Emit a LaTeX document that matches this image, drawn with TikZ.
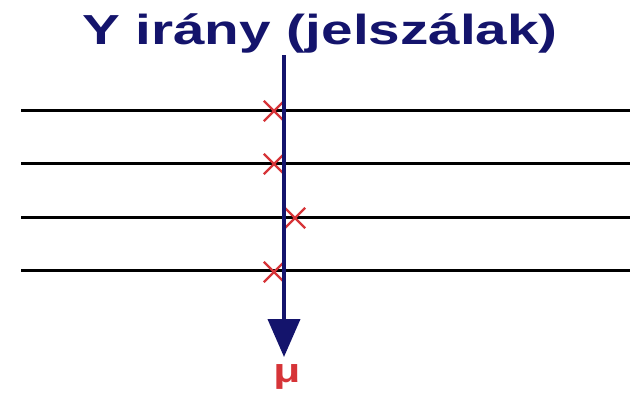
\documentclass[tikz,border=0pt]{standalone}
\usepackage{fontspec}
\setmainfont{Liberation Sans}
\usetikzlibrary{arrows.meta,shapes.misc}
\definecolor{navy}{RGB}{20,20,108}
\definecolor{crossred}{RGB}{214,52,56}
\begin{document}
\begin{tikzpicture}[x=1pt,y=-1pt,
    thread/.style={line width=3pt,black},
    hit/.style={cross out,draw=crossred,line width=2.4pt,minimum size=18pt,inner sep=0pt}]
  \useasboundingbox (0,0) rectangle (630,392);
  \node[font=\fontsize{42}{44}\selectfont\bfseries,text=navy,xscale=1.35,
      inner sep=0pt,anchor=base] (title) at (320,44) {Y irány (jelszálak)};
  % threads
  \foreach \i/\y in {1/110,2/163,3/217,4/270}{
    \coordinate (l\i) at (21,\y);
    \coordinate (r\i) at (630,\y);
    \draw[thread] (l\i) -- (r\i);
  }
  \foreach \i/\x/\y in {1/274/111,2/274/164,3/295/218,4/274/272}{
    \node[hit] (x\i) at (\x,\y) {};
  }
  \coordinate (top) at (284,55);
  \coordinate (bot) at (284,357);
  \draw[navy,line width=4pt,-{Triangle[length=38pt,width=32pt]}] (top) -- (bot);
  \node[font=\fontsize{34}{36}\selectfont\bfseries,text=crossred,xscale=1.3,
      inner sep=0pt,anchor=base] (mu) at (287,382) {μ};
\end{tikzpicture}
\end{document}
